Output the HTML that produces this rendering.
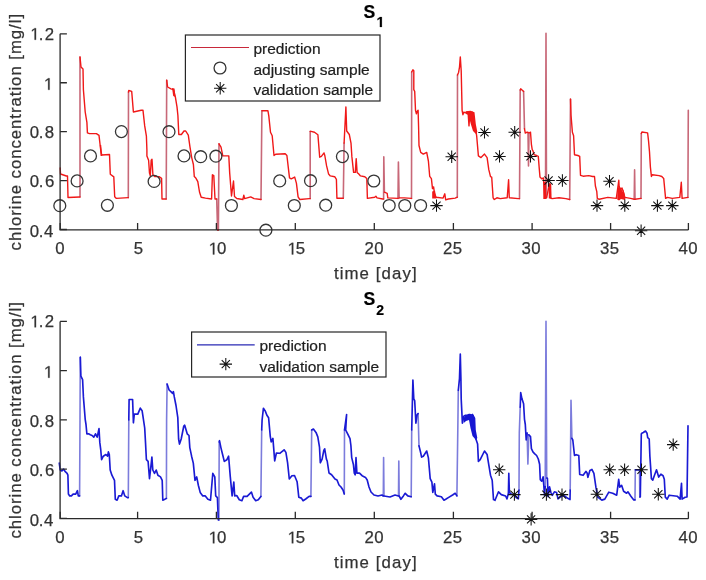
<!DOCTYPE html>
<html><head><meta charset="utf-8"><style>
html,body{margin:0;padding:0;background:#fff;}
svg{display:block;filter:blur(0.45px);}
text{font-family:"Liberation Sans",sans-serif;fill:#333;stroke:#333;stroke-width:0.25px;}
.tk{font-size:16.8px;}
.lb{font-size:16.8px;letter-spacing:1.1px;}
.yl{letter-spacing:0.95px;}
.hid{fill:none;stroke:none;}
.tt{font-size:17.6px;font-weight:bold;fill:#000;stroke:#000;stroke-width:0.2px;}
.ts{font-size:14px;font-weight:bold;fill:#000;stroke:#000;stroke-width:0.2px;}
.lg{font-size:15.5px;fill:#1e1e1e;stroke:#1e1e1e;stroke-width:0.22px;}
</style></head><body>
<svg width="706" height="580" viewBox="0 0 706 580">
<rect width="706" height="580" fill="#fff"/>
<path d="M80.0 197.0L80.0 57.0M128.3 197.6L128.5 92.0M166.2 199.0L166.7 80.2M216.7 199.0L217.6 230.0M218.4 230.0L219.0 143.8M261.0 199.5L261.9 110.7M310.2 198.6L310.2 131.4M343.3 198.3L344.1 143.1M383.6 199.0L383.8 156.9M383.8 156.9L384.4 192.2M398.0 198.4L398.4 162.1M398.4 162.1L399.1 197.9M411.5 198.4L411.7 72.0M457.3 197.2L457.5 75.0M519.5 198.6L520.2 90.0M523.6 91.4L524.5 128.8M528.0 132.5L528.5 166.0M528.5 166.0L529.0 133.0M545.5 197.8L546.0 33.3M546.0 33.3L546.5 197.8M569.7 199.5L570.5 99.1M634.2 199.3L634.6 169.9M634.6 169.9L635.0 199.3M641.0 198.4L641.3 133.5M687.9 197.4L688.3 110.2" fill="none" stroke="#c86878" stroke-width="1.6" stroke-linecap="round"/><path d="M60.2 168.0L60.5 174.0L66.4 176.0L67.5 176.0L68.0 197.5L79.5 197.0L80.0 197.0M80.0 57.0L81.0 67.0L83.0 69.0L83.4 89.7L85.2 112.0L86.9 122.4L87.4 132.8L89.5 133.6L96.4 133.6L99.0 135.3L100.7 150.0L101.7 155.0L109.5 154.5L110.3 174.3L113.8 176.9L114.7 196.7L116.4 198.4L128.3 197.6M128.5 92.0L128.8 90.5L131.7 91.4L133.4 112.0L141.2 110.3L143.0 110.3L144.7 125.9L146.4 136.2L146.9 150.0L146.9 155.9L148.6 160.2L149.5 173.1L150.3 175.7L151.2 160.2L152.0 159.3L152.9 174.8L154.7 176.6L159.0 176.6L161.6 178.3L162.0 199.0L166.2 199.0M166.7 80.2L167.6 87.0L171.0 88.8L173.6 89.7L175.3 96.6L177.0 106.9L177.9 115.5L178.8 134.5L181.4 134.5L184.0 131.0L185.7 131.0L188.3 135.2L190.0 147.2L191.7 157.6L193.4 164.5L194.3 176.6L196.0 178.3L197.8 181.7L199.5 192.0L201.2 197.2L205.5 198.1L211.6 199.0L212.4 174.8L213.8 175.7L215.0 199.0L216.7 199.0M217.6 230.0L218.4 230.0M219.0 143.8L221.0 147.2L222.8 155.9L228.8 155.9L229.7 173.1L231.5 196.0L233.5 181.0L234.5 196.5L236.8 198.5L242.9 199.5L243.8 195.2L244.7 198.6L250.7 196.9L254.1 198.6L261.0 199.5M261.9 110.7L267.9 110.7L268.8 115.9L270.5 132.2L272.2 135.7L274.0 155.5L275.7 154.2L285.2 153.8L286.9 155.5L289.5 177.9L291.2 178.8L294.7 177.1L296.4 183.1L298.1 196.9L299.8 199.5L309.3 198.6L310.2 198.6M310.2 131.4L311.0 131.4L314.5 132.2L317.9 134.8L319.7 157.2L321.4 156.4L324.0 152.9L324.8 155.5L326.6 165.9L328.6 174.1L330.3 175.9L334.7 176.7L336.4 179.3L336.9 198.3L343.3 198.3M344.1 143.1L345.9 106.9L346.7 131.0L349.3 134.5L351.0 143.1L351.9 156.9L353.6 172.4L355.3 172.4L356.2 158.6L357.1 172.4L358.8 174.1L360.5 175.9L364.8 176.7L366.8 178.6L367.4 198.4L374.7 197.3L375.9 196.2L377.0 197.9L382.7 199.0L383.6 199.0M384.4 192.2L387.2 193.3L387.8 197.9L398.0 198.4M399.1 197.9L404.2 197.9L411.5 198.4M411.7 72.0L412.9 69.8L413.8 70.7L413.8 89.7L414.7 91.4L415.5 110.3L416.4 113.8L417.2 111.2L418.1 110.3L418.6 127.6L419.0 145.5L420.7 152.4L423.3 154.1L426.7 152.4L428.4 161.0L429.7 176.3L431.4 178.6L432.5 188.6L433.6 186.9L434.5 193.8L436.2 197.2L443.1 198.1L444.8 193.8L445.7 199.8L448.3 199.0L455.2 198.1L457.3 197.2M457.5 75.0L458.6 72.4L459.5 67.2L460.3 56.9L461.2 70.7L461.7 93.1L462.1 110.3L462.9 114.7L463.8 112.1L465.5 112.9L468.1 112.1L469.0 125.9L469.8 112.9L472.4 112.1L473.3 124.1L474.1 130.2L475.9 131.0L476.7 136.2L478.4 155.9L481.0 157.6L484.5 154.1L487.1 157.6L488.8 169.7L490.5 176.6L491.7 177.1L493.1 197.8L494.3 199.5L496.9 197.8L500.3 198.6L507.2 197.8L508.6 179.7L509.3 197.8L518.4 198.6L519.5 198.6M520.2 90.0L520.7 88.8L523.6 91.4M524.5 128.8L525.3 133.1L527.1 132.2L528.0 132.5M529.0 133.0L530.5 132.2L531.4 144.3L532.2 149.5L533.1 151.2L534.0 154.7L536.6 155.5L538.3 156.4L539.1 166.7L540.0 177.1L541.7 178.8L543.4 177.9L544.8 197.8L545.5 197.8M546.5 197.8L549.5 184.0L550.3 197.8L552.1 198.6L559.0 197.8L565.9 198.6L569.7 199.5M570.5 99.1L571.0 115.0L572.4 132.2L573.6 135.7L574.5 154.7L577.9 155.5L579.7 156.4L580.5 175.3L583.1 176.2L588.8 175.6L592.6 176.5L594.5 176.5L595.4 186.0L596.8 191.7L597.3 198.4L599.2 199.3L607.8 197.4L616.3 198.4L618.8 180.3L619.1 186.0L620.1 189.8L622.0 188.0L623.9 193.6L624.8 197.4L630.5 198.4L634.2 199.3M635.0 199.3L641.0 198.4M641.3 133.5L641.9 132.0L647.6 132.9L648.5 140.5L649.5 151.9L650.4 167.1L651.4 176.5L652.3 174.7L659.0 175.6L661.8 176.5L663.7 178.4L665.6 198.4L667.5 197.4L672.2 198.4L679.8 197.4L681.3 182.2L682.1 198.4L687.9 197.4" fill="none" stroke="#f01818" stroke-width="1.4" stroke-linejoin="round" stroke-linecap="round"/>
<path d="M79.6 495.9L80.0 420.0M80.0 420.0L80.3 357.2M128.3 497.6L128.8 420.0M166.4 498.4L166.6 420.0M166.6 420.0L167.1 384.0M218.9 520.0L219.2 442.0M260.9 496.4L261.7 430.0M310.9 496.4L311.7 430.0M344.3 494.0L344.5 430.0M383.3 496.0L383.6 457.6M383.6 457.6L384.0 496.0M398.5 496.0L398.8 461.0M398.8 461.0L399.2 496.0M411.2 496.7L411.7 430.0M418.1 413.6L419.0 445.9M456.9 495.9L457.8 430.0M457.8 430.0L458.3 390.3M519.0 490.0L519.3 433.1M519.3 433.1L520.2 407.2M527.1 433.1L527.9 464.1M527.9 464.1L528.8 434.8M545.2 486.6L546.0 321.2M546.0 321.2L546.7 478.0M570.2 490.0L571.0 400.3M571.0 400.3L571.9 438.3M635.0 499.9L635.3 469.8M639.5 469.8L639.8 497.0" fill="none" stroke="#7c7cdc" stroke-width="1.6" stroke-linecap="round"/><path d="M59.3 463.1L60.2 470.0L61.9 470.9L63.6 469.1L65.3 471.7L67.1 473.4L67.9 475.2L68.4 494.1L69.7 495.9L71.4 495.9L73.1 494.1L75.7 494.1L77.4 490.7L78.3 495.9L79.6 495.9M80.3 357.2L80.9 376.2L82.6 379.7L83.4 396.9L85.2 419.3L86.0 424.5L86.9 434.0L88.6 433.8L90.3 434.7L92.1 435.5L93.8 437.2L95.5 433.8L97.2 437.2L99.0 428.6L99.8 442.4L100.7 449.3L101.6 459.7L103.3 456.2L105.9 454.5L107.6 456.2L108.4 451.9L109.3 454.5L110.2 470.0L111.9 475.2L114.5 480.3L115.3 499.3L117.1 500.2L118.8 495.9L121.4 495.9L123.1 490.7L124.8 495.9L127.4 497.6L128.3 497.6M128.8 420.0L129.1 399.5L132.6 399.5L133.4 422.8L134.3 414.1L137.8 414.1L140.3 408.1L142.1 410.7L142.9 415.9L144.7 428.0L145.5 442.4L146.4 459.7L148.1 461.4L149.5 478.6L150.7 468.3L151.9 457.1L152.8 470.0L154.5 473.4L156.2 470.0L157.9 475.2L160.5 476.9L162.2 480.3L162.8 500.2L164.8 499.3L166.4 498.4M167.1 384.0L169.1 390.0L170.9 391.7L172.6 393.4L173.4 391.7L174.3 396.9L176.0 405.5L177.8 417.6L178.6 439.0L179.5 444.1L181.2 439.0L183.8 426.0L184.7 425.2L187.2 433.8L189.0 435.5L189.8 447.6L191.6 456.2L193.3 463.1L195.0 480.3L196.7 476.9L198.4 485.5L200.2 492.4L202.8 495.9L205.3 495.9L207.9 499.3L210.5 500.2L212.8 473.4L214.8 476.9L215.7 495.9L217.4 497.6L218.3 520.0L218.9 520.0M219.2 442.0L219.5 440.7L220.9 447.6L222.6 454.5L224.3 461.4L226.9 459.7L228.6 456.2L230.3 476.9L232.1 495.9L233.8 482.1L234.7 495.9L236.7 495.5L239.3 499.8L241.9 500.7L243.6 496.4L247.1 496.4L251.4 492.1L253.1 497.2L255.7 500.7L258.3 499.8L260.9 496.4M261.7 430.0L262.1 420.0L263.4 408.3L265.2 410.9L266.9 415.2L268.6 417.8L270.3 436.7L271.2 441.9L272.9 438.4L274.7 460.9L276.4 453.0L279.8 453.3L284.1 449.8L285.9 452.4L287.6 462.8L289.3 479.0L291.9 475.7L294.5 475.5L297.1 481.7L298.8 497.2L301.4 498.1L303.1 500.7L305.7 499.0L309.1 496.4L310.9 496.4M311.7 430.0L313.4 429.0L316.0 432.4L317.8 436.9L319.5 447.2L320.3 462.8L322.1 459.1L323.8 450.5L324.7 448.8L326.4 459.1L327.2 461.0L329.0 473.0L331.6 474.7L335.0 479.0L337.0 480.0L339.0 485.0L341.0 487.0L343.0 490.0L344.3 494.0M344.5 430.0L346.6 414.5L345.7 430.0L347.4 433.4L350.0 438.6L350.9 445.5L351.7 457.6L353.4 464.5L354.3 473.1L355.2 474.8L356.0 457.6L356.9 473.1L359.5 473.1L362.1 475.7L365.5 477.4L367.2 480.0L369.0 487.0L371.0 492.0L374.0 495.0L378.0 496.0L382.0 495.0L383.3 496.0M384.0 496.0L390.0 497.0L395.0 495.0L398.5 496.0M399.2 496.0L400.9 499.3L403.4 495.9L405.2 493.3L407.8 495.9L411.2 496.7M411.7 430.0L412.9 380.0L413.8 399.0L414.7 400.7L415.9 423.1L417.2 414.5L418.1 413.6M419.0 445.9L420.7 452.8L421.6 457.1L423.3 456.2L426.7 451.0L428.4 457.9L429.3 468.3L430.2 478.6L431.9 482.1L432.8 492.4L434.5 483.8L435.3 494.1L437.1 495.9L441.4 496.7L444.0 500.2L445.7 499.3L448.3 497.6L452.6 495.0L455.2 493.3L456.9 495.9M458.3 390.3L459.5 378.3L460.3 354.1L460.9 378.3L461.2 399.0L462.4 423.1L463.8 416.2L465.5 415.3L468.1 416.2L469.0 414.5L470.7 416.2L472.4 414.5L473.3 416.2L474.1 430.0L475.9 439.0L477.6 444.1L478.4 461.4L480.2 459.7L484.5 451.0L487.1 454.5L488.8 464.8L490.5 475.2L492.2 480.3L493.5 499.6L495.0 500.3L498.5 491.8L501.3 494.6L505.6 496.0L507.0 498.9L508.4 493.2L508.8 473.4L509.4 492.5L511.2 493.9L514.1 495.3L516.2 497.5L518.3 498.9L519.0 490.0M520.2 407.2L520.7 392.6L521.9 398.6L523.6 403.8L524.5 419.3L525.3 424.5L526.2 440.0L527.1 433.1M528.8 434.8L530.5 436.6L531.4 448.6L533.1 452.1L534.8 453.8L536.6 455.5L538.3 459.0L539.6 464.2L540.3 479.7L541.7 481.2L543.1 476.9L543.8 485.4L544.5 495.3L545.2 486.6M546.7 478.0L547.4 478.3L548.1 496.7L549.5 486.8L550.9 492.5L552.3 495.3L554.4 491.8L556.6 492.5L558.0 498.9L560.8 496.7L563.7 495.3L566.5 497.5L570.0 499.6L570.2 490.0M571.9 438.3L572.8 440.0L574.5 455.5L576.2 454.7L578.8 455.5L579.7 474.5L583.1 475.3L585.9 471.4L587.0 472.7L587.9 477.3L589.9 470.4L591.9 469.4L593.9 473.4L595.9 487.2L597.8 497.2L601.8 500.1L604.8 499.1L608.8 492.2L612.7 493.2L616.7 495.2L618.7 479.3L619.7 487.2L621.6 485.3L623.6 491.2L626.6 493.2L627.9 491.8L630.9 496.2L633.8 499.9L635.0 499.9M635.3 469.8L639.5 469.8M639.8 497.0L640.3 497.0L641.3 434.0L641.8 433.2L643.3 432.5L645.5 431.0L647.0 433.2L647.7 437.6L649.2 439.0L649.9 456.6L651.4 478.6L652.8 480.1L654.3 475.7L656.5 469.8L658.7 477.1L660.9 474.2L663.1 475.7L664.3 479.3L665.3 497.2L667.2 499.1L669.2 495.2L677.2 496.2L680.1 499.1L681.5 483.3L682.1 499.1L685.1 497.2L687.0 497.0L688.0 425.8" fill="none" stroke="#1a1ad4" stroke-width="1.65" stroke-linejoin="round" stroke-linecap="round"/>
<polygon points="543.3,182.0 546.0,182.0 546.0,199.0 543.3,199.0" fill="#f01818"/><polygon points="548.6,183.5 551.2,183.5 551.6,198.5 548.8,198.5" fill="#f01818"/><polygon points="432.2,191.5 435.0,190.5 436.4,198.5 432.2,198.5" fill="#f01818"/><polygon points="617.2,199.5 617.5,190.0 618.5,186.5 620.0,187.0 621.5,189.0 622.5,192.0 623.5,189.5 624.5,194.0 625.5,198.0 625.0,200.0 621.0,199.0 619.0,200.5" fill="#f01818"/><polygon points="465.5,111.2 470.5,110.8 474.5,112.2 475.8,124.0 477.3,132.0 476.0,134.0 473.0,131.0 470.8,124.0 468.5,115.0 466.0,114.0" fill="#f01818"/><polygon points="99.8,145.0 101.2,145.0 102.2,156.0 100.6,156.0" fill="#f01818"/><polygon points="172.0,88.0 174.5,88.5 175.3,97.0 173.2,96.0" fill="#f01818"/>
<polygon points="463.5,418.0 466.5,414.5 470.0,413.8 473.5,415.0 475.3,418.0 475.8,430.0 477.3,438.0 476.0,440.0 472.5,436.0 470.5,428.0 469.0,420.0 466.0,421.0 463.8,423.0" fill="#1616d2"/>
<circle cx="59.8" cy="205.7" r="5.95" fill="none" stroke="#363636" stroke-width="1.3"/><circle cx="77.1" cy="180.9" r="5.95" fill="none" stroke="#363636" stroke-width="1.3"/><circle cx="90.5" cy="155.9" r="5.95" fill="none" stroke="#363636" stroke-width="1.3"/><circle cx="107.4" cy="205.3" r="5.95" fill="none" stroke="#363636" stroke-width="1.3"/><circle cx="121.4" cy="131.6" r="5.95" fill="none" stroke="#363636" stroke-width="1.3"/><circle cx="154.1" cy="181.4" r="5.95" fill="none" stroke="#363636" stroke-width="1.3"/><circle cx="169.0" cy="131.7" r="5.95" fill="none" stroke="#363636" stroke-width="1.3"/><circle cx="184.0" cy="155.9" r="5.95" fill="none" stroke="#363636" stroke-width="1.3"/><circle cx="200.7" cy="156.7" r="5.95" fill="none" stroke="#363636" stroke-width="1.3"/><circle cx="215.9" cy="156.2" r="5.95" fill="none" stroke="#363636" stroke-width="1.3"/><circle cx="231.4" cy="205.5" r="5.95" fill="none" stroke="#363636" stroke-width="1.3"/><circle cx="265.9" cy="230.2" r="5.95" fill="none" stroke="#363636" stroke-width="1.3"/><circle cx="279.7" cy="180.9" r="5.95" fill="none" stroke="#363636" stroke-width="1.3"/><circle cx="294.3" cy="205.5" r="5.95" fill="none" stroke="#363636" stroke-width="1.3"/><circle cx="310.5" cy="180.7" r="5.95" fill="none" stroke="#363636" stroke-width="1.3"/><circle cx="325.7" cy="205.2" r="5.95" fill="none" stroke="#363636" stroke-width="1.3"/><circle cx="342.4" cy="156.6" r="5.95" fill="none" stroke="#363636" stroke-width="1.3"/><circle cx="373.8" cy="181.0" r="5.95" fill="none" stroke="#363636" stroke-width="1.3"/><circle cx="389.2" cy="205.5" r="5.95" fill="none" stroke="#363636" stroke-width="1.3"/><circle cx="404.8" cy="205.5" r="5.95" fill="none" stroke="#363636" stroke-width="1.3"/><circle cx="420.6" cy="205.5" r="5.95" fill="none" stroke="#363636" stroke-width="1.3"/>
<path d="M430.30 205.60H442.70M436.50 199.40V211.80M432.41 201.51L440.59 209.69M432.41 209.69L440.59 201.51M445.50 156.70H457.90M451.70 150.50V162.90M447.61 152.61L455.79 160.79M447.61 160.79L455.79 152.61M478.30 132.40H490.70M484.50 126.20V138.60M480.41 128.31L488.59 136.49M480.41 136.49L488.59 128.31M493.30 156.40H505.70M499.50 150.20V162.60M495.41 152.31L503.59 160.49M495.41 160.49L503.59 152.31M508.50 132.20H520.90M514.70 126.00V138.40M510.61 128.11L518.79 136.29M510.61 136.29L518.79 128.11M524.30 156.40H536.70M530.50 150.20V162.60M526.41 152.31L534.59 160.49M526.41 160.49L534.59 152.31M542.40 180.50H554.80M548.60 174.30V186.70M544.51 176.41L552.69 184.59M544.51 184.59L552.69 176.41M556.20 180.50H568.60M562.40 174.30V186.70M558.31 176.41L566.49 184.59M558.31 184.59L566.49 176.41M590.80 205.60H603.20M597.00 199.40V211.80M592.91 201.51L601.09 209.69M592.91 209.69L601.09 201.51M603.30 181.20H615.70M609.50 175.00V187.40M605.41 177.11L613.59 185.29M605.41 185.29L613.59 177.11M618.60 205.60H631.00M624.80 199.40V211.80M620.71 201.51L628.89 209.69M620.71 209.69L628.89 201.51M634.90 230.80H647.30M641.10 224.60V237.00M637.01 226.71L645.19 234.89M637.01 234.89L645.19 226.71M651.20 205.60H663.60M657.40 199.40V211.80M653.31 201.51L661.49 209.69M653.31 209.69L661.49 201.51M666.10 205.60H678.50M672.30 199.40V211.80M668.21 201.51L676.39 209.69M668.21 209.69L676.39 201.51M493.00 469.80H505.40M499.20 463.60V476.00M495.11 465.71L503.29 473.89M495.11 473.89L503.29 465.71M508.20 494.60H520.60M514.40 488.40V500.80M510.31 490.51L518.49 498.69M510.31 498.69L518.49 490.51M524.90 519.40H537.30M531.10 513.20V525.60M527.01 515.31L535.19 523.49M527.01 523.49L535.19 515.31M540.20 494.60H552.60M546.40 488.40V500.80M542.31 490.51L550.49 498.69M542.31 498.69L550.49 490.51M555.80 494.60H568.20M562.00 488.40V500.80M557.91 490.51L566.09 498.69M557.91 498.69L566.09 490.51M590.70 494.20H603.10M596.90 488.00V500.40M592.81 490.11L600.99 498.29M592.81 498.29L600.99 490.11M603.50 469.80H615.90M609.70 463.60V476.00M605.61 465.71L613.79 473.89M605.61 473.89L613.79 465.71M618.40 469.80H630.80M624.60 463.60V476.00M620.51 465.71L628.69 473.89M620.51 473.89L628.69 465.71M635.30 469.80H647.70M641.50 463.60V476.00M637.41 465.71L645.59 473.89M637.41 473.89L645.59 465.71M652.10 494.20H664.50M658.30 488.00V500.40M654.21 490.11L662.39 498.29M654.21 498.29L662.39 490.11M667.00 444.60H679.40M673.20 438.40V450.80M669.11 440.51L677.29 448.69M669.11 448.69L677.29 440.51" fill="none" stroke="#111" stroke-width="1.05"/>
<path d="M60.1 33.80V229.95H688.4" fill="none" stroke="#2a2a2a" stroke-width="1.3"/>
<path d="M60.1 229.50h6.8M60.1 180.58h6.8M60.1 131.65h6.8M60.1 82.73h6.8M60.1 33.80h6.8M60.20 229.95v-7M137.60 229.95v-7M216.40 229.95v-7M295.30 229.95v-7M374.30 229.95v-7M453.40 229.95v-7M532.10 229.95v-7M610.60 229.95v-7M688.40 229.95v-7" fill="none" stroke="#2a2a2a" stroke-width="1.3"/>
<text x="29.65 38.77 43.91" y="237.10" class="tk">0.4</text>
<text x="29.65 38.77 44.95" y="187.23" class="tk">0.6</text>
<text x="29.65 38.77 44.87" y="138.30" class="tk">0.8</text>
<path transform="translate(43.90 89.83) scale(0.008203 -0.008203)" d="M515 0L696 0L696 1409L530 1409L197 1180L197 1010L515 1237Z" fill="#333" stroke="#333" stroke-width="30.5"/>
<text x="38.77 44.71" y="39.75" class="tk">.2</text><path transform="translate(30.33 39.75) scale(0.008203 -0.008203)" d="M515 0L696 0L696 1409L530 1409L197 1180L197 1010L515 1237Z" fill="#333" stroke="#333" stroke-width="30.5"/>
<text x="55.30" y="254.40" class="tk">0</text>
<text x="133.82" y="254.40" class="tk">5</text>
<text x="217.10" y="254.40" class="tk">0</text><path transform="translate(208.66 254.40) scale(0.008203 -0.008203)" d="M515 0L696 0L696 1409L530 1409L197 1180L197 1010L515 1237Z" fill="#333" stroke="#333" stroke-width="30.5"/>
<text x="295.63" y="254.40" class="tk">5</text><path transform="translate(287.58 254.40) scale(0.008203 -0.008203)" d="M515 0L696 0L696 1409L530 1409L197 1180L197 1010L515 1237Z" fill="#333" stroke="#333" stroke-width="30.5"/>
<text x="364.51 374.15" y="254.40" class="tk">20</text>
<text x="443.03 452.68" y="254.40" class="tk">25</text>
<text x="521.56 531.20" y="254.40" class="tk">30</text>
<text x="600.09 609.73" y="254.40" class="tk">35</text>
<text x="678.61 688.25" y="254.40" class="tk">40</text>
<text x="375.8" y="278.5" text-anchor="middle" class="lb">time [day]</text>
<text transform="translate(21,131.7) rotate(-90)" text-anchor="middle" class="lb yl">chlorine concentration [mg/l]</text>
<text x="363.5" y="17.6" class="tt">S</text>
<path transform="translate(376.50 27.00) scale(0.007080 -0.007080)" d="M478 0L759 0L759 1409L493 1409L140 1180L140 959L478 1170Z" fill="#000" stroke="#000" stroke-width="28.2"/>
<path d="M60.1 321.40V518.70H688.4" fill="none" stroke="#2a2a2a" stroke-width="1.3"/>
<path d="M60.1 518.45h6.8M60.1 469.19h6.8M60.1 419.93h6.8M60.1 370.66h6.8M60.1 321.40h6.8M60.20 518.70v-7M137.60 518.70v-7M216.40 518.70v-7M295.30 518.70v-7M374.30 518.70v-7M453.40 518.70v-7M532.10 518.70v-7M610.60 518.70v-7M688.40 518.70v-7" fill="none" stroke="#2a2a2a" stroke-width="1.3"/>
<text x="29.65 38.77 43.91" y="526.05" class="tk">0.4</text>
<text x="29.65 38.77 44.95" y="475.84" class="tk">0.6</text>
<text x="29.65 38.77 44.87" y="426.57" class="tk">0.8</text>
<path transform="translate(43.90 377.76) scale(0.008203 -0.008203)" d="M515 0L696 0L696 1409L530 1409L197 1180L197 1010L515 1237Z" fill="#333" stroke="#333" stroke-width="30.5"/>
<text x="38.77 44.71" y="327.35" class="tk">.2</text><path transform="translate(30.33 327.35) scale(0.008203 -0.008203)" d="M515 0L696 0L696 1409L530 1409L197 1180L197 1010L515 1237Z" fill="#333" stroke="#333" stroke-width="30.5"/>
<text x="55.30" y="543.35" class="tk">0</text>
<text x="133.82" y="543.35" class="tk">5</text>
<text x="217.10" y="543.35" class="tk">0</text><path transform="translate(208.66 543.35) scale(0.008203 -0.008203)" d="M515 0L696 0L696 1409L530 1409L197 1180L197 1010L515 1237Z" fill="#333" stroke="#333" stroke-width="30.5"/>
<text x="295.63" y="543.35" class="tk">5</text><path transform="translate(287.58 543.35) scale(0.008203 -0.008203)" d="M515 0L696 0L696 1409L530 1409L197 1180L197 1010L515 1237Z" fill="#333" stroke="#333" stroke-width="30.5"/>
<text x="364.51 374.15" y="543.35" class="tk">20</text>
<text x="443.03 452.68" y="543.35" class="tk">25</text>
<text x="521.56 531.20" y="543.35" class="tk">30</text>
<text x="600.09 609.73" y="543.35" class="tk">35</text>
<text x="678.61 688.25" y="543.35" class="tk">40</text>
<text x="375.8" y="567.5" text-anchor="middle" class="lb">time [day]</text>
<text transform="translate(21,419.9) rotate(-90)" text-anchor="middle" class="lb yl">chlorine concentration [mg/l]</text>
<text x="363.5" y="305.4" class="tt">S</text>
<text x="376.3" y="315.1" class="ts">2</text>
<!-- legend top -->
<rect x="185.4" y="35" width="194.6" height="66" fill="#fff" stroke="#262626" stroke-width="1.2"/>
<path d="M191 47.5H249" stroke="#c8283a" stroke-width="1.2"/>
<circle cx="220" cy="68" r="5.95" fill="none" stroke="#363636" stroke-width="1.3"/>
<path d="M214.00 88.30H226.40M220.20 82.10V94.50M216.11 84.21L224.29 92.39M216.11 92.39L224.29 84.21" fill="none" stroke="#111" stroke-width="1.05"/>
<text x="253.4" y="53.9" class="lg">prediction</text>
<text x="253.4" y="74.5" class="lg">adjusting sample</text>
<text x="253.4" y="95.4" class="lg">validation sample</text>
<!-- legend bottom -->
<rect x="191.6" y="332" width="194.4" height="45" fill="#fff" stroke="#262626" stroke-width="1.2"/>
<path d="M197 344.8H254.7" stroke="#2a2ab4" stroke-width="1.2"/>
<path d="M219.60 364.10H232.00M225.80 357.90V370.30M221.71 360.01L229.89 368.19M221.71 368.19L229.89 360.01" fill="none" stroke="#111" stroke-width="1.05"/>
<text x="259.4" y="350.9" class="lg">prediction</text>
<text x="259.4" y="371.5" class="lg">validation sample</text>
</svg>
</body></html>
